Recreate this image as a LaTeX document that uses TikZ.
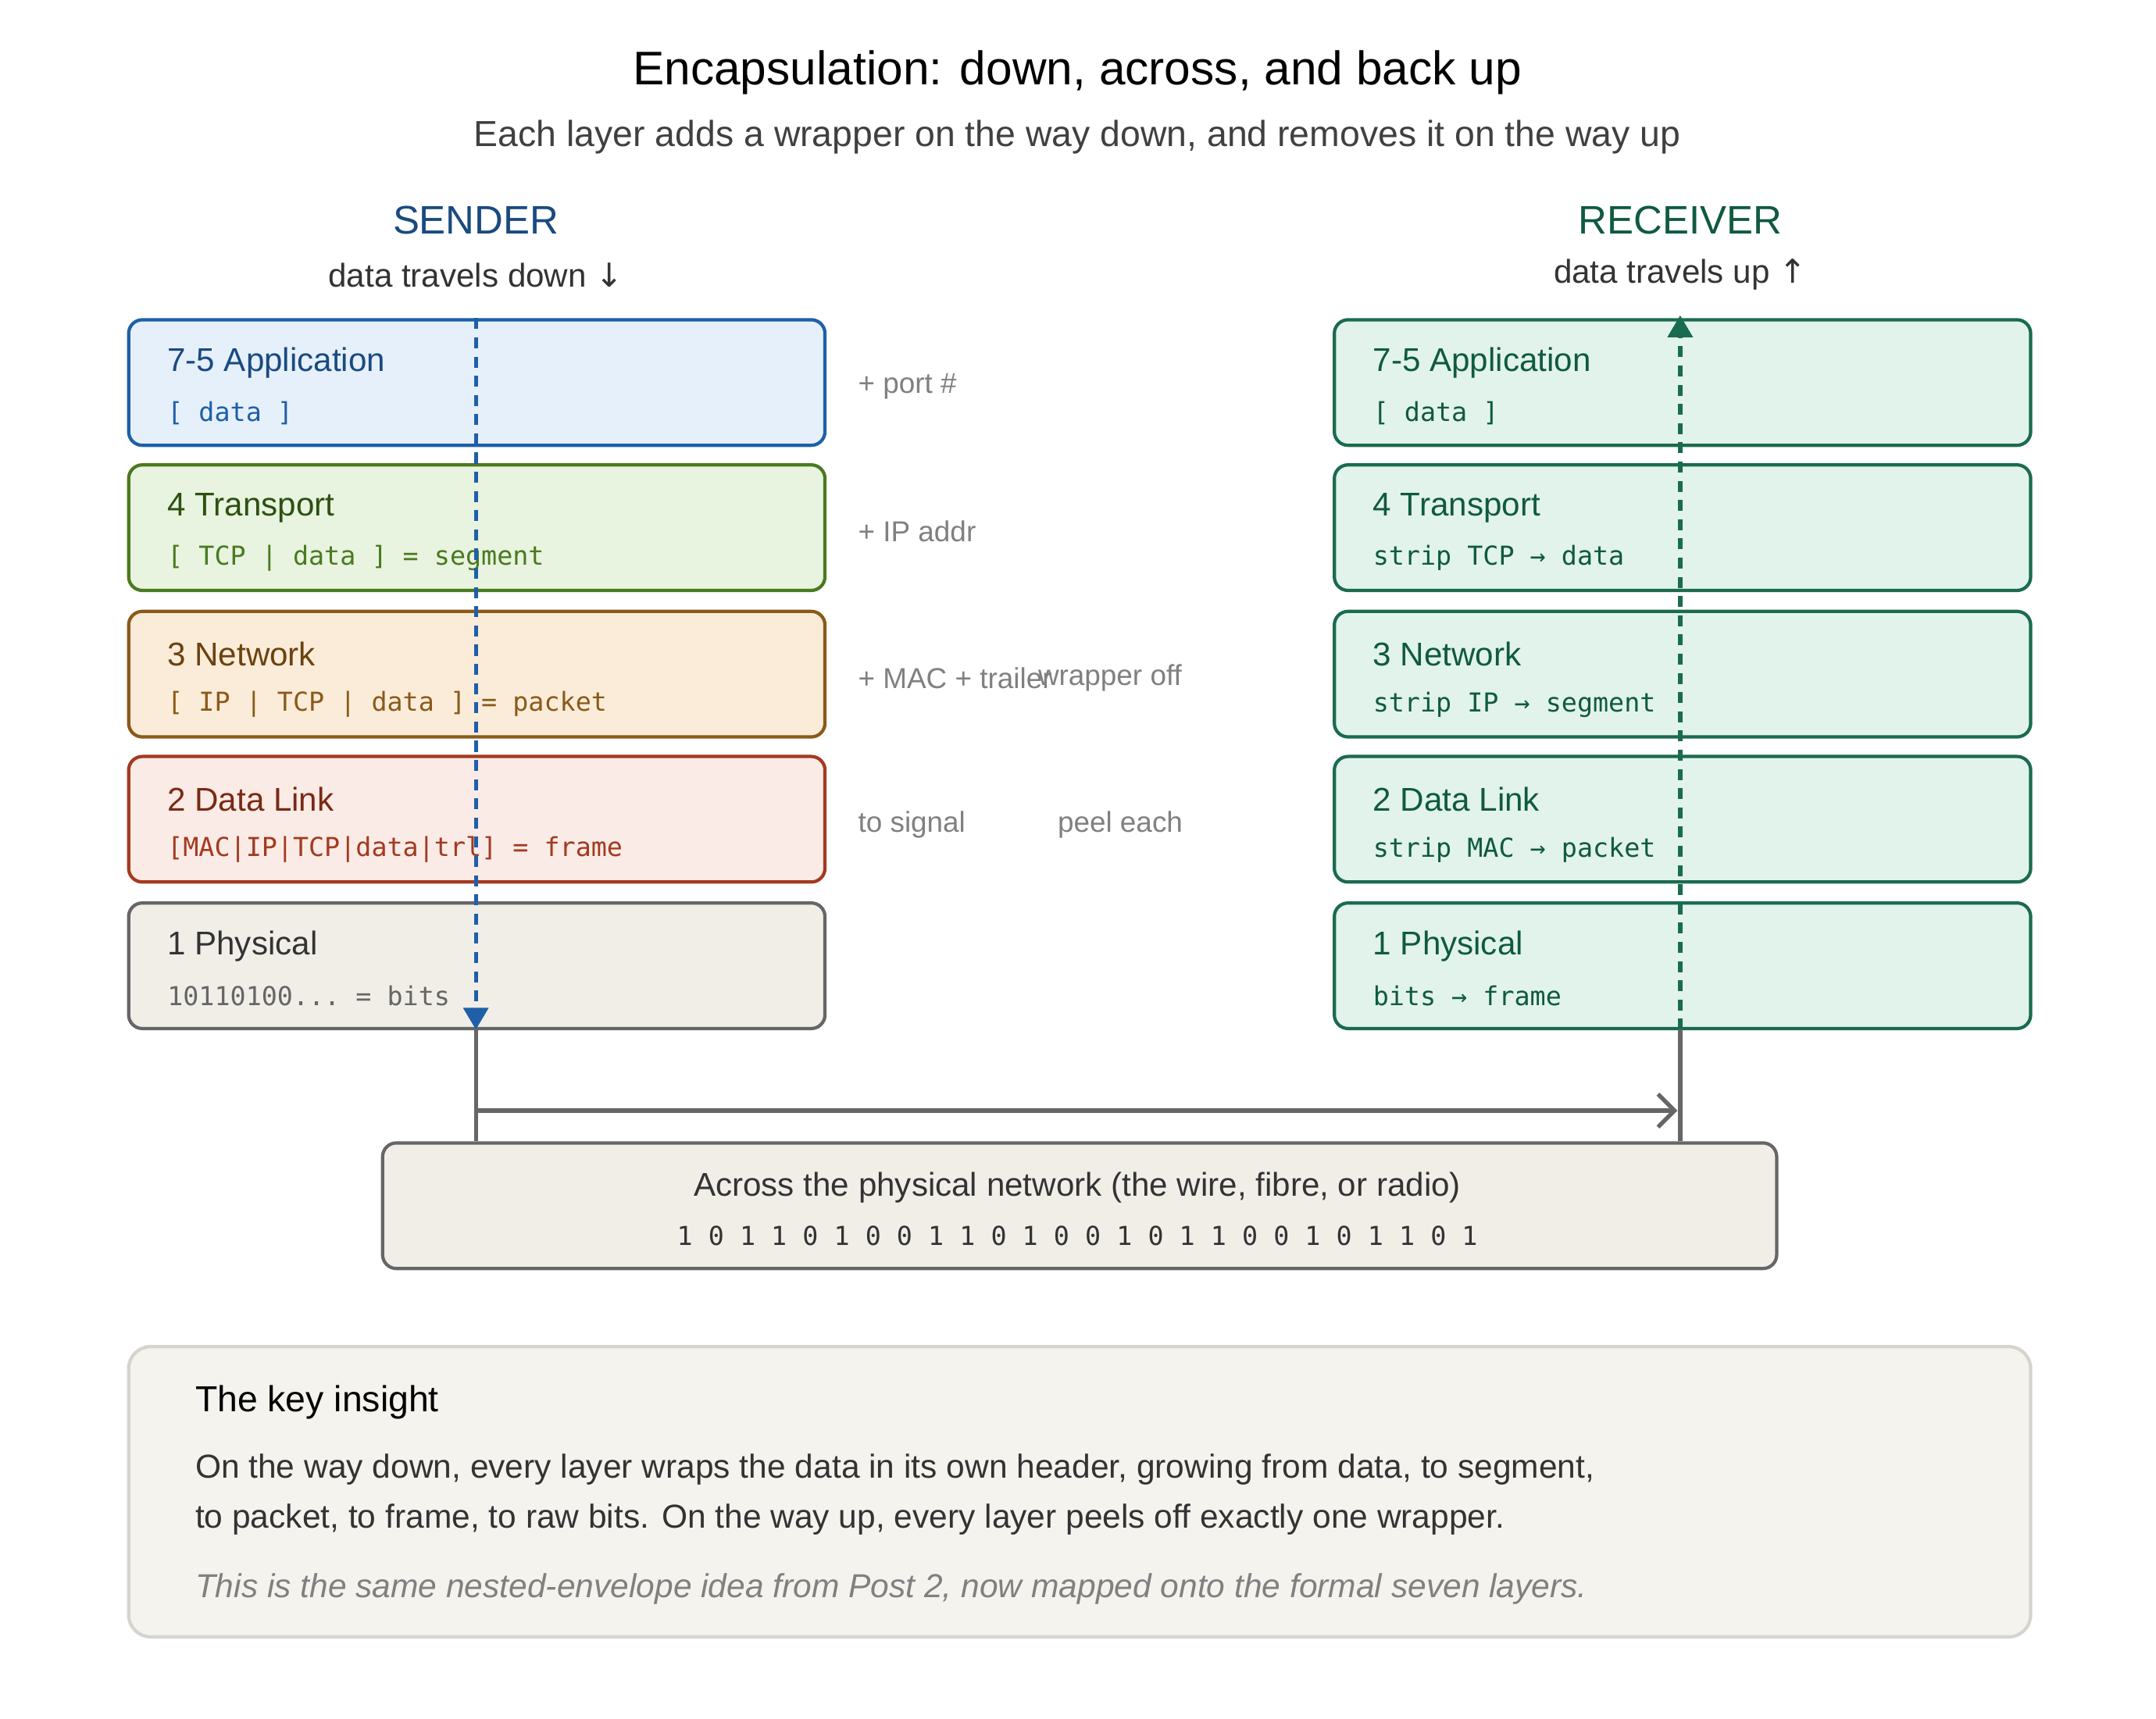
\documentclass[tikz,border=0pt]{standalone}
\usepackage{fontspec}
\setmainfont{Liberation Sans}
\setmonofont{DejaVu Sans Mono}
\newfontfamily\symfont{DejaVu Sans}
\usetikzlibrary{positioning}
\usetikzlibrary{arrows.meta}
\definecolor{appfill}{HTML}{E6F0FA}\definecolor{appline}{HTML}{1F5FA8}\definecolor{apptext}{HTML}{1A4A80}
\definecolor{trfill}{HTML}{E8F3E0}\definecolor{trline}{HTML}{4A7A1F}\definecolor{trtext}{HTML}{2D5010}
\definecolor{nwfill}{HTML}{FBECD9}\definecolor{nwline}{HTML}{8A5A1A}\definecolor{nwtext}{HTML}{6B4210}
\definecolor{dlfill}{HTML}{FAEBE6}\definecolor{dlline}{HTML}{A33A1F}\definecolor{dltext}{HTML}{7A2A14}
\definecolor{phfill}{HTML}{F1EEE8}\definecolor{phline}{HTML}{666666}\definecolor{phtext}{HTML}{333333}
\definecolor{rxfill}{HTML}{E2F3EC}\definecolor{rxline}{HTML}{1A6B50}\definecolor{rxtext}{HTML}{0F5A40}
\definecolor{keyfill}{HTML}{F4F3EE}\definecolor{keyline}{HTML}{D6D4CE}
\newlength{\pxu}\setlength{\pxu}{0.017864cm}
\tikzset{
layer/.style={draw,line width=1.2pt,rounded corners=5pt,minimum width=499\pxu,minimum height=90\pxu,anchor=north west},
ltitle/.style={anchor=west,font=\fontsize{12}{14}\selectfont},
lcode/.style={anchor=west,font=\ttfamily\fontsize{9.5}{11}\selectfont},
note/.style={anchor=west,text=gray,font=\fontsize{10.5}{12}\selectfont}
}
\begin{document}
\begin{tikzpicture}[x=0.017864cm,y=-0.017864cm]
\useasboundingbox[fill=white] (0,0) rectangle (1545,1232);
\node[font=\fontsize{17.2}{19}\selectfont] (title) at (772,52) {Encapsulation: down, across, and back up};
\node[text=black!75,font=\fontsize{13.2}{15}\selectfont] (sub) at (772,98) {Each layer adds a wrapper on the way down, and removes it on the way up};
\node[text=apptext,font=\fontsize{14.5}{16}\selectfont] (snd) at (341,158) {SENDER};
\node[text=black!80,font=\fontsize{12}{13}\selectfont] (sndsub) at (341,197) {data travels down {\symfont↓}};
\node[text=rxtext,font=\fontsize{14.5}{16}\selectfont] (rcv) at (1204,158) {RECEIVER};
\node[text=black!80,font=\fontsize{12}{13}\selectfont] (rcvsub) at (1204,197) {data travels up {\symfont↑}};
% sender stack
\foreach \n/\y/\c/\t/\d in {s7/228/app/7-5 Application/{[ data ]},
  s4/332/tr/4 Transport/{[ TCP | data ] = segment},
  s3/437/nw/3 Network/{[ IP | TCP | data ] = packet},
  s2/541/dl/2 Data Link/{[MAC|IP|TCP|data|trl] = frame},
  s1/646/ph/1 Physical/{10110100... = bits}}{
  \node[layer,fill=\c fill,draw=\c line] (\n) at (91,\y) {};
  \node[ltitle,text=\c text] at (113,\y+32) {\t};
  \node[lcode,text=\c line] at (113,\y+68) {\d};
}
% receiver stack
\foreach \n/\y/\t/\d in {r7/228/7-5 Application/{[ data ]},
  r4/332/4 Transport/{strip TCP → data},
  r3/437/3 Network/{strip IP → segment},
  r2/541/2 Data Link/{strip MAC → packet},
  r1/646/1 Physical/{bits → frame}}{
  \node[layer,fill=rxfill,draw=rxline] (\n) at (955,\y) {};
  \node[ltitle,text=rxtext] at (977,\y+32) {\t};
  \node[lcode,text=rxtext] at (977,\y+68) {\d};
}
% middle notes
\node[note] (n1) at (608,277) {+ port \#};
\node[note] (n2) at (608,381) {+ IP addr};
\node[note] (n3) at (608,486) {+ MAC + trailer};
\node[note] (n4) at (608,591) {to signal};
\node[note] (n5) at (737,486) {wrapper off};
\node[note] (n6) at (751,591) {peel each};
% wire
\node[draw=phline,fill=phfill,line width=1.2pt,rounded corners=5pt,minimum width=999\pxu,minimum height=90\pxu,anchor=north west] (wire) at (273,818) {};
\node[text=phtext,font=\fontsize{12}{13}\selectfont] at (772,851) {Across the physical network (the wire, fibre, or radio)};
\node[text=phtext,font=\ttfamily\fontsize{9.5}{11}\selectfont] at (772,886) {1 0 1 1 0 1 0 0 1 1 0 1 0 0 1 0 1 1 0 0 1 0 1 1 0 1};
\coordinate (sd) at (341,818);
\coordinate (rd) at (1204,818);
\draw[phline,line width=1.5pt] (341,736) -- (sd);
\draw[phline,line width=1.5pt] (1204,736) -- (rd);
\draw[phline,line width=1.5pt,-{Straight Barb[length=6pt,width=12pt]}] (341,796) -- (1202,796);
% data paths
\draw[appline,line width=1.5pt,dash pattern=on 4pt off 3pt,-{Triangle[length=8pt,width=9pt]}] (341,228) -- (341,738);
\draw[rxline,line width=1.5pt,dash pattern=on 4pt off 3pt,-{Triangle[length=8pt,width=9pt]}] (1204,738) -- (1204,226);
% key insight
\node[draw=keyline,fill=keyfill,line width=1.2pt,rounded corners=8pt,minimum width=1363\pxu,minimum height=208\pxu,anchor=north west] (key) at (91,964) {};
\node[anchor=west,font=\fontsize{13.2}{15}\selectfont] at (133,1005) {The key insight};
\node[anchor=west,text=black!80,font=\fontsize{12.1}{13}\selectfont] at (133,1053) {On the way down, every layer wraps the data in its own header, growing from data, to segment,};
\node[anchor=west,text=black!80,font=\fontsize{12.1}{13}\selectfont] at (133,1089) {to packet, to frame, to raw bits. On the way up, every layer peels off exactly one wrapper.};
\node[anchor=west,text=gray,font=\itshape\fontsize{12.1}{13}\selectfont] at (133,1139) {This is the same nested-envelope idea from Post 2, now mapped onto the formal seven layers.};
\end{tikzpicture}
\end{document}
